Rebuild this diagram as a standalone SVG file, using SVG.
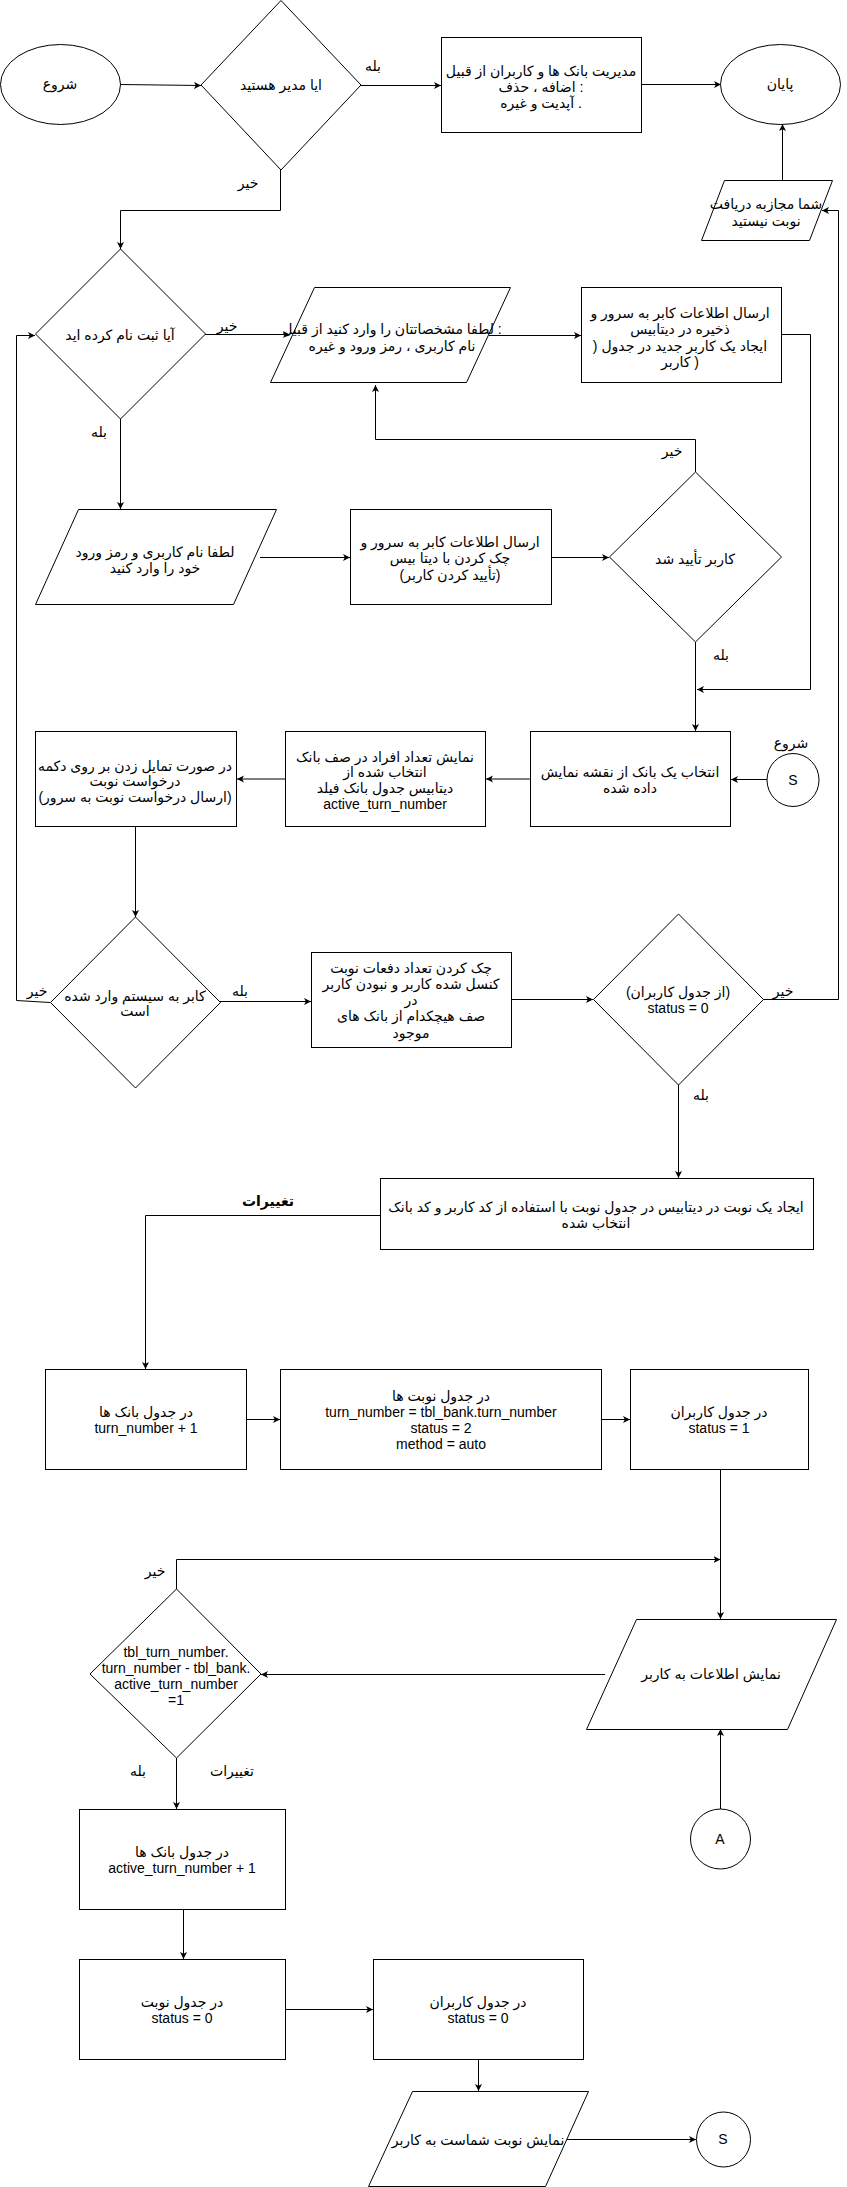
<svg xmlns="http://www.w3.org/2000/svg" width="847" height="2187" viewBox="0 0 847 2187">
  <defs>
    <marker id="arr" markerWidth="8" markerHeight="8" refX="7" refY="3.5" orient="auto" markerUnits="userSpaceOnUse">
      <path d="M0,0 L7,3.5 L0,7 L1.8,3.5 Z" fill="#000"/>
    </marker>
  </defs>
  <style>
    .n rect, .n path, .n ellipse { fill: #fff; stroke: #000; stroke-width: 1; }
    text { font-family: "Liberation Sans", "DejaVu Sans", sans-serif; font-size: 14px; text-anchor: middle; fill: #000; }
    .b { font-weight: bold; }
    .e path { fill: none; stroke: #000; stroke-width: 1; marker-end: url(#arr); }
  </style>
  <rect width="847" height="2187" fill="#fff"/>

  <!-- connectors -->
  <g id="connectors" class="e">
    <path d="M120,84.5 L201,85.5"/>
    <path d="M361,85.5 L441,85.5"/>
    <path d="M642,84.5 L721,84.5"/>
    <path d="M280.5,170 L280.5,210.5 L120.5,210.5 L120.5,249"/>
    <path d="M782.5,180 L782.5,124"/>
    <path d="M763,999.5 L838.5,999.5 L838.5,210.5 L822,210.5"/>
    <path d="M205,334.5 L290,334.5"/>
    <path d="M489,335.5 L581,335.5"/>
    <path d="M782,334.5 L810.5,334.5 L810.5,689.5 L697,689.5"/>
    <path d="M695.5,472 L695.5,439.5 L375.5,439.5 L375.5,385"/>
    <path d="M120.5,419 L120.5,509"/>
    <path d="M260,557.5 L350,557.5"/>
    <path d="M552,557.5 L609,557.5"/>
    <path d="M695.5,642 L695.5,731"/>
    <path d="M767,779.5 L731,779.5"/>
    <path d="M530,779 L486,779"/>
    <path d="M285,779 L237,779"/>
    <path d="M135.5,826 L135.5,917"/>
    <path d="M50,1002.5 L16.5,1000.5 L16.5,335.5 L35,335.5"/>
    <path d="M220,1001.5 L311,1001.5"/>
    <path d="M512,999.5 L593,999.5"/>
    <path d="M678.5,1085 L678.5,1178"/>
    <path d="M380,1215.5 L145.5,1215.5 L145.5,1369"/>
    <path d="M247,1419.5 L280,1419.5"/>
    <path d="M602,1419.5 L630,1419.5"/>
    <path d="M720.5,1470 L720.5,1619"/>
    <path d="M176.5,1589 L176.5,1559.5 L720.5,1559.5"/>
    <path d="M605,1674.5 L261,1674.5"/>
    <path d="M720.5,1809 L720.5,1729"/>
    <path d="M176.5,1758 L176.5,1809"/>
    <path d="M183.5,1910 L183.5,1959"/>
    <path d="M286,2009.5 L373,2009.5"/>
    <path d="M478.5,2060 L478.5,2091"/>
    <path d="M565,2139.5 L696,2139.5"/>
  </g>

  <!-- nodes -->
  <g id="start" class="n">
    <ellipse cx="60.5" cy="84.5" rx="60" ry="40"/>
    <text x="60" y="89">شروع</text>
  </g>
  <g id="is-admin" class="n">
    <path d="M281,0.5 L361,85 L281,170 L201,85 Z"/>
    <text x="281" y="89.5">ایا مدیر هستید</text>
  </g>
  <g id="admin-manage" class="n">
    <rect x="441.5" y="37.5" width="200" height="95"/>
    <text x="541"><tspan x="541" y="75.5">مدیریت بانک ها و کاربران از قبیل</tspan><tspan x="541" y="91.5">اضافه ، حذف :</tspan><tspan x="541" y="107.5">آپدیت و غیره .</tspan></text>
  </g>
  <g id="end" class="n">
    <ellipse cx="780.5" cy="84.5" rx="60" ry="40"/>
    <text x="780" y="89">پایان</text>
  </g>
  <g id="not-allowed" class="n">
    <path d="M724.5,180.5 L832.5,180.5 L809.5,240.5 L701.5,240.5 Z"/>
    <text><tspan x="766" y="208.5">شما مجازبه دریافت</tspan><tspan x="766" y="225.5">نوبت نیستید</tspan></text>
  </g>
  <g id="registered" class="n">
    <path d="M120.5,249 L205.5,334 L120.5,419 L35.5,334 Z"/>
    <text x="120" y="340">آیا ثبت نام کرده اید</text>
  </g>
  <g id="signup-form" class="n">
    <path d="M314.5,287.5 L510.5,287.5 L466.5,382.5 L270.5,382.5 Z"/>
    <text><tspan x="392" y="333.5">لطفا مشخصاتتان را وارد کنید از قبیل :</tspan><tspan x="392" y="350.5">نام کاربری ، رمز ورود و غیره</tspan></text>
  </g>
  <g id="signup-save" class="n">
    <rect x="581.5" y="287.5" width="200" height="95"/>
    <text><tspan x="680" y="317.5">ارسال اطلاعات کابر به سرور و</tspan><tspan x="680" y="333.5">ذخیره در دیتابیس</tspan><tspan x="680" y="350.5">) ایجاد یک کاربر جدید در جدول</tspan><tspan x="680" y="366.5">کاربر )</tspan></text>
  </g>
  <g id="login-form" class="n">
    <path d="M78.5,509.5 L276.5,509.5 L233.5,604.5 L35.5,604.5 Z"/>
    <text><tspan x="155" y="556.5">لطفا نام کاربری و رمز ورود</tspan><tspan x="155" y="572.5">خود را وارد کنید</tspan></text>
  </g>
  <g id="login-check" class="n">
    <rect x="350.5" y="509.5" width="201" height="95"/>
    <text><tspan x="450" y="546.5">ارسال اطلاعات کابر به سرور و</tspan><tspan x="450" y="562.5">چک کردن با دیتا بیس</tspan><tspan x="450" y="579.5">(تأیید کردن کاربر)</tspan></text>
  </g>
  <g id="verified" class="n">
    <path d="M695.5,472 L781.5,557 L695.5,642 L609.5,557 Z"/>
    <text x="695" y="563.5">کاربر تأیید شد</text>
  </g>
  <g id="pick-bank" class="n">
    <rect x="530.5" y="731.5" width="200" height="95"/>
    <text><tspan x="630" y="776.5">انتخاب یک بانک از نقشه نمایش</tspan><tspan x="630" y="792.5">داده شده</tspan></text>
  </g>
  <g id="s-connector" class="n">
    <ellipse cx="793" cy="780" rx="26" ry="26.5"/>
    <text x="793" y="784.5">S</text>
    <text x="791" y="747.5">شروع</text>
  </g>
  <g id="queue-count" class="n">
    <rect x="285.5" y="731.5" width="200" height="95"/>
    <text><tspan x="385" y="761.5">نمایش تعداد افراد در صف بانک</tspan><tspan x="385" y="776.5">انتخاب شده از</tspan><tspan x="385" y="792.5">دیتابیس جدول بانک فیلد</tspan><tspan x="385" y="808.5">active_turn_number</tspan></text>
  </g>
  <g id="request-turn" class="n">
    <rect x="35.5" y="731.5" width="201" height="95"/>
    <text><tspan x="135" y="770.5">در صورت تمایل زدن بر روی دکمه</tspan><tspan x="135" y="785.5">درخواست نوبت</tspan><tspan x="135" y="801.5">(ارسال درخواست نوبت به سرور)</tspan></text>
  </g>
  <g id="logged-in" class="n">
    <path d="M135.5,917 L220.5,1002.5 L135.5,1088 L50.5,1002.5 Z"/>
    <text><tspan x="135" y="1000.5">کابر به سیستم وارد شده</tspan><tspan x="135" y="1015.5">است</tspan></text>
  </g>
  <g id="cancel-check" class="n">
    <rect x="311.5" y="952.5" width="200" height="95"/>
    <text><tspan x="411" y="972.5">چک کردن تعداد دفعات نوبت</tspan><tspan x="411" y="988.5">کنسل شده کاربر و نبودن کاربر</tspan><tspan x="411" y="1004.5">در</tspan><tspan x="411" y="1021">صف هیچکدام از بانک های</tspan><tspan x="411" y="1037.5">موجود</tspan></text>
  </g>
  <g id="user-status" class="n">
    <path d="M678.5,914 L763.5,999.5 L678.5,1085 L593.5,999.5 Z"/>
    <text><tspan x="678" y="996.5">(از جدول کاربران)</tspan><tspan x="678" y="1012.5">status = 0</tspan></text>
  </g>
  <g id="create-turn" class="n">
    <rect x="380.5" y="1178.5" width="433" height="71"/>
    <text><tspan x="596" y="1211.5">ایجاد یک نوبت در دیتابیس در جدول نوبت با استفاده از کد کاربر و کد بانک</tspan><tspan x="596" y="1227.5">انتخاب شده</tspan></text>
  </g>
  <g id="bank-turn" class="n">
    <rect x="45.5" y="1369.5" width="201" height="100"/>
    <text><tspan x="146" y="1417">در جدول بانک ها</tspan><tspan x="146" y="1433">turn_number + 1</tspan></text>
  </g>
  <g id="turn-row" class="n">
    <rect x="280.5" y="1369.5" width="321" height="100"/>
    <text><tspan x="441" y="1400.5">در جدول نوبت ها</tspan><tspan x="441" y="1416.5">turn_number = tbl_bank.turn_number</tspan><tspan x="441" y="1432.5">status = 2</tspan><tspan x="441" y="1448.5">method = auto</tspan></text>
  </g>
  <g id="user-busy" class="n">
    <rect x="630.5" y="1369.5" width="178" height="100"/>
    <text><tspan x="719" y="1417">در جدول کاربران</tspan><tspan x="719" y="1433">status = 1</tspan></text>
  </g>
  <g id="show-info" class="n">
    <path d="M636.5,1619.5 L836.5,1619.5 L787.5,1729.5 L586.5,1729.5 Z"/>
    <text x="711" y="1678.5">نمایش اطلاعات به کاربر</text>
  </g>
  <g id="next-check" class="n">
    <path d="M176.5,1589 L261,1674 L176.5,1758 L90,1674 Z"/>
    <text><tspan x="176" y="1656.5">tbl_turn_number.</tspan><tspan x="176" y="1672.5">turn_number - tbl_bank.</tspan><tspan x="176" y="1688.5">active_turn_number</tspan><tspan x="176" y="1704.5">=1</tspan></text>
  </g>
  <g id="a-connector" class="n">
    <ellipse cx="720.5" cy="1839" rx="30" ry="30"/>
    <text x="720" y="1843.5">A</text>
  </g>
  <g id="bank-active" class="n">
    <rect x="79.5" y="1809.5" width="206" height="100"/>
    <text><tspan x="182" y="1857">در جدول بانک ها</tspan><tspan x="182" y="1873">active_turn_number + 1</tspan></text>
  </g>
  <g id="turn-done" class="n">
    <rect x="79.5" y="1959.5" width="206" height="100"/>
    <text><tspan x="182" y="2007">در جدول نوبت</tspan><tspan x="182" y="2023">status = 0</tspan></text>
  </g>
  <g id="user-free" class="n">
    <rect x="373.5" y="1959.5" width="210" height="100"/>
    <text><tspan x="478" y="2007">در جدول کاربران</tspan><tspan x="478" y="2023">status = 0</tspan></text>
  </g>
  <g id="show-turn" class="n">
    <path d="M412.5,2091.5 L588.5,2091.5 L545.5,2186.5 L368.5,2186.5 Z"/>
    <text x="478" y="2144.5">نمایش نوبت شماست به کاربر</text>
  </g>
  <g id="s-end" class="n">
    <ellipse cx="723.5" cy="2139.5" rx="27" ry="27.5"/>
    <text x="723" y="2144">S</text>
  </g>

  <!-- edge labels -->
  <g id="labels">
    <text x="373" y="70.5">بله</text>
    <text x="248" y="187.5">خیر</text>
    <text x="227" y="330.5">خیر</text>
    <text x="99" y="436.5">بله</text>
    <text x="672" y="455.5">خیر</text>
    <text x="721" y="659.5">بله</text>
    <text x="37" y="995.5">خیر</text>
    <text x="240" y="995.5">بله</text>
    <text x="783" y="995.5">خیر</text>
    <text x="701" y="1099.5">بله</text>
    <text class="b" x="268" y="1205.5">تغییرات</text>
    <text x="155" y="1575.5">خیر</text>
    <text x="138" y="1775.5">بله</text>
    <text x="232" y="1775.5">تغییرات</text>
  </g>
</svg>
